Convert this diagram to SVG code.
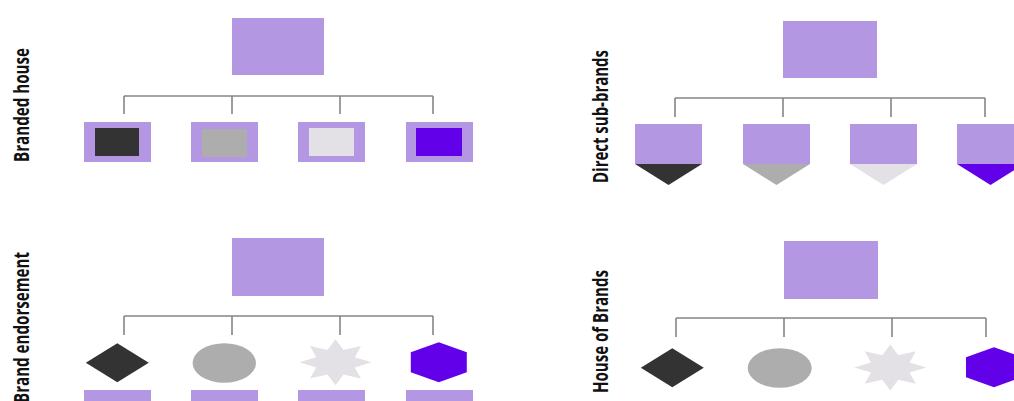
<svg xmlns="http://www.w3.org/2000/svg" width="1014" height="401" viewBox="0 0 1014 401">
<style>
.bg{fill:#ffffff}
.p{fill:#b497e3}
.c1{fill:#333333}
.c2{fill:#adadad}
.c3{fill:#e3e1e5}
.c4{fill:#6200ea}
.conn{stroke:#858585;stroke-width:1.6;fill:none}
.lbl{font-family:"Open Sans","Liberation Sans",sans-serif;font-weight:bold;font-size:21px;fill:#111111}
</style>
<defs>
<polygon id="diamond" points="0,-19.5 31.5,0 0,19.5 -31.5,0"/>
<polygon id="hex" points="0,-20 28,-10 28,10 0,20 -28,10 -28,-10"/>
<polygon id="star" points="0,-23 8,-12.3 25.5,-16.3 19.3,-5.1 36,0 19.3,5.1 25.5,16.3 8,12.3 0,23 -8,12.3 -25.5,16.3 -19.3,5.1 -36,0 -19.3,-5.1 -25.5,-16.3 -8,-12.3"/>
<polygon id="chev" points="0,0 67,0 33.5,21"/>
</defs>
<rect class="bg" x="0" y="0" width="1014" height="401"/>

<g id="connectors">
<path class="conn" d="M124,96 H433 M124,96 V114 M232,96 V114 M340,96 V114 M433,96 V114"/>
<path class="conn" d="M675,98 H985 M675,98 V117 M783,98 V117 M891,98 V117 M985,98 V117"/>
<path class="conn" d="M124,316 H433 M124,316 V335 M232,316 V335 M340,316 V335 M433,316 V335"/>
<path class="conn" d="M676,318 H986 M676,318 V337 M784,318 V337 M892,318 V337 M986,318 V337"/>
</g>

<g id="label-branded-house"><text class="lbl" transform="translate(29,162) rotate(-90)" textLength="114" lengthAdjust="spacingAndGlyphs">Branded house</text></g>
<g id="label-direct-sub-brands"><text class="lbl" transform="translate(608,183) rotate(-90)" textLength="133" lengthAdjust="spacingAndGlyphs">Direct sub-brands</text></g>
<g id="label-brand-endorsement"><text class="lbl" transform="translate(29,403) rotate(-90)" textLength="151" lengthAdjust="spacingAndGlyphs">Brand endorsement</text></g>
<g id="label-house-of-brands"><text class="lbl" transform="translate(608,393) rotate(-90)" textLength="123" lengthAdjust="spacingAndGlyphs">House of Brands</text></g>

<!-- Branded house -->
<g id="bh-parent"><rect class="p" x="232" y="18" width="92" height="57"/></g>
<g id="bh-1"><rect class="p" x="84" y="122" width="67" height="40"/><rect class="c1" x="95" y="128" width="44" height="28"/></g>
<g id="bh-2"><rect class="p" x="191" y="122" width="67" height="40"/><rect class="c2" x="202" y="129" width="45" height="28"/></g>
<g id="bh-3"><rect class="p" x="298" y="122" width="67" height="40"/><rect class="c3" x="309" y="128" width="45" height="28"/></g>
<g id="bh-4"><rect class="p" x="406" y="122" width="67" height="40"/><rect class="c4" x="416" y="128" width="46" height="28"/></g>

<!-- Direct sub-brands -->
<g id="ds-parent"><rect class="p" x="783" y="21" width="94" height="57"/></g>
<g id="ds-1"><rect class="p" x="635" y="124" width="67" height="40"/><use href="#chev" class="c1" x="635" y="164"/></g>
<g id="ds-2"><rect class="p" x="743" y="124" width="67" height="40"/><use href="#chev" class="c2" x="743" y="164"/></g>
<g id="ds-3"><rect class="p" x="850" y="124" width="67" height="40"/><use href="#chev" class="c3" x="850" y="164"/></g>
<g id="ds-4"><rect class="p" x="957" y="124" width="67" height="40"/><use href="#chev" class="c4" x="957" y="164"/></g>

<!-- Brand endorsement -->
<g id="be-parent"><rect class="p" x="232" y="238" width="92" height="58"/></g>
<g id="be-1"><use href="#diamond" class="c1" x="117.3" y="362.7"/><rect class="p" x="84" y="390" width="67" height="20"/></g>
<g id="be-2"><ellipse class="c2" cx="224.3" cy="363" rx="31.7" ry="19.7"/><rect class="p" x="191" y="390" width="67" height="20"/></g>
<g id="be-3"><use href="#star" class="c3" x="335.5" y="362.3"/><rect class="p" x="298" y="390" width="67" height="20"/></g>
<g id="be-4"><use href="#hex" class="c4" x="438.8" y="362.3"/><rect class="p" x="406" y="390" width="67" height="20"/></g>

<!-- House of Brands -->
<g id="hb-parent"><rect class="p" x="784" y="241" width="94" height="58"/></g>
<g id="hb-1"><use href="#diamond" class="c1" x="672.3" y="367.8"/></g>
<g id="hb-2"><ellipse class="c2" cx="779.7" cy="368" rx="32" ry="19.7"/></g>
<g id="hb-3"><use href="#star" class="c3" x="890.3" y="367.5"/></g>
<g id="hb-4"><use href="#hex" class="c4" x="994" y="367.2"/></g>
</svg>
